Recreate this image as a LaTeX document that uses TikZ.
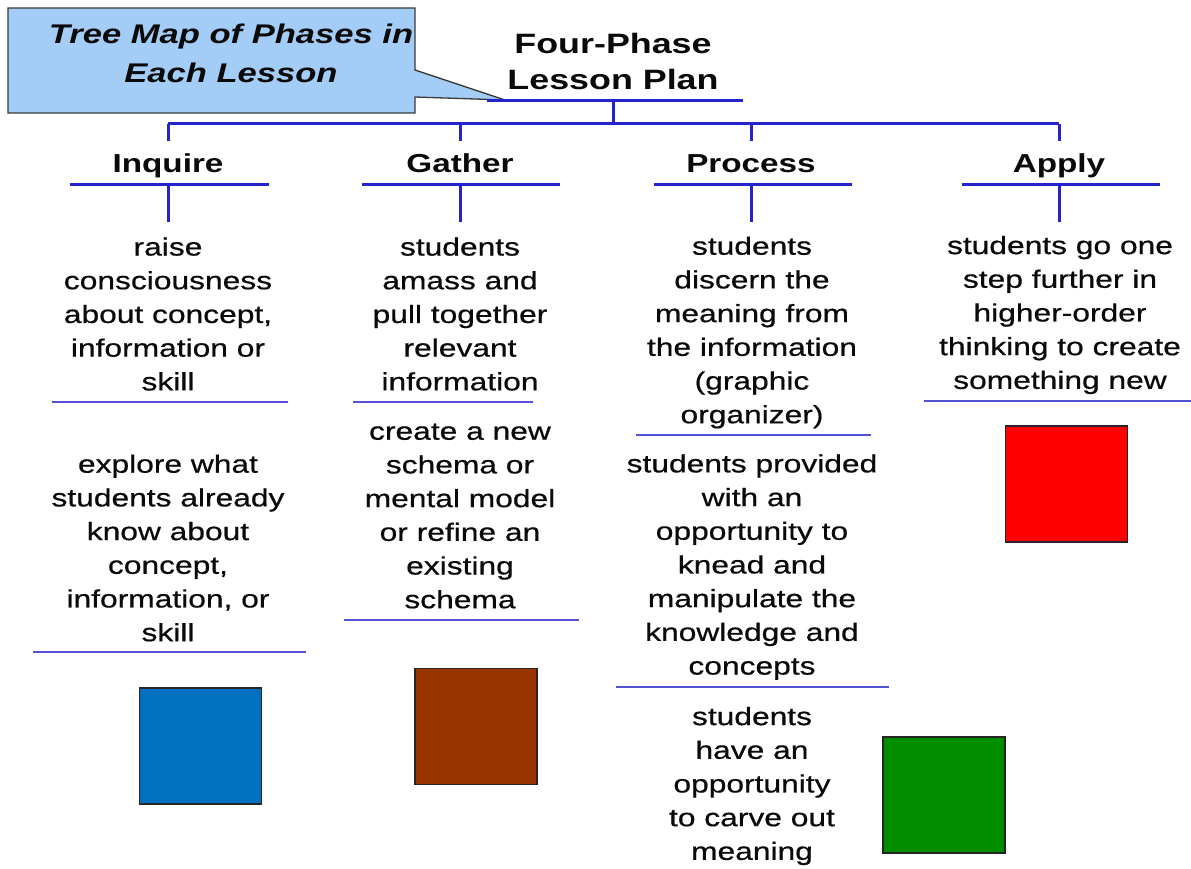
\documentclass[tikz,border=0pt]{standalone}
\usepackage{fontspec}
\newfontfamily\arialx{Liberation Sans}[FakeStretch=1.28]
\newfontfamily\arialbody{Liberation Sans}[FakeStretch=1.27,FakeBold=0.6]
\definecolor{treeblue}{HTML}{2424CC}
\definecolor{sepblue}{HTML}{5252D4}
\definecolor{callfill}{HTML}{A3CDF6}
\definecolor{callline}{HTML}{3A3A3A}
\definecolor{txt}{HTML}{0A0A0A}
\definecolor{sqblue}{HTML}{0070C0}
\definecolor{sqbrown}{HTML}{993300}
\definecolor{sqred}{HTML}{FF0000}
\definecolor{sqgreen}{HTML}{008E00}
\tikzset{
  tree/.style={treeblue, line width=3pt},
  sepline/.style={sepblue, line width=2.5pt},
  body/.style={align=center, inner sep=0pt, text=txt, font=\arialbody\fontsize{25}{33.7}\selectfont},
  title/.style={anchor=base, inner sep=0pt, text=txt, font=\arialx\bfseries\fontsize{26}{30}\selectfont},
  sq/.style={draw=black!85, line width=1.2pt, minimum width=122pt, minimum height=116pt, inner sep=0pt}
}
\begin{document}
\begin{tikzpicture}[x=1pt,y=-1pt]
\useasboundingbox (0,0) rectangle (1191,869);
\fill[white] (0,0) rectangle (1191,869);

% callout
\draw[callline, fill=callfill, line width=1.3pt] (8,8) -- (415,8) -- (415,70) -- (505,100) -- (415,97) -- (415,113) -- (8,113) -- cycle;
\node[align=center, inner sep=0pt, text=txt, font=\arialx\bfseries\itshape\fontsize{27}{39}\selectfont] (callout) at (231,53) {Tree Map of Phases in\\Each Lesson};

% root
\node[align=center, inner sep=0pt, text=txt, font=\arialx\bfseries\fontsize{28}{36}\selectfont] (root) at (613,61) {Four-Phase\\Lesson Plan};
\coordinate (rootUL) at (487,101);
\coordinate (rootUR) at (743,101);
\coordinate (rootJ) at (613,101);
\coordinate (busJ) at (613,124);
\coordinate (busL) at (168,124);
\coordinate (busR) at (1059,124);
\draw[tree] (rootUL) -- (rootUR);
\draw[tree] (rootJ) -- (busJ);
\draw[tree] (busL) -- (busR);

% columns
\foreach \n/\x/\t/\l/\r in {inq/168/Inquire/70/269, gat/460/Gather/362/560, pro/751/Process/654/852, app/1059/Apply/962/1160}{
  \coordinate (\n-top) at (\x,124);
  \coordinate (\n-stub) at (\x,141);
  \node[title] (\n) at (\x,173) {\t};
  \coordinate (\n-ul) at (\l,185);
  \coordinate (\n-ur) at (\r,185);
  \coordinate (\n-j) at (\x,185);
  \coordinate (\n-down) at (\x,222);
  \draw[tree] (\n-top) -- (\n-stub);
  \draw[tree] (\n-ul) -- (\n-ur);
  \draw[tree] (\n-j) -- (\n-down);
}

% Inquire
\node[body] (inq1) at (168,314) {raise\\consciousness\\about concept,\\information or\\skill};
\draw[sepline] (52,402) -- (288,402);
\node[body] (inq2) at (168,548) {explore what\\students already\\know about\\concept,\\information, or\\skill};
\draw[sepline] (33,652) -- (306,652);
\node[sq, fill=sqblue] (sqI) at (200.5,746) {};

% Gather
\node[body] (gat1) at (460,314) {students\\amass and\\pull together\\relevant\\information};
\draw[sepline] (353,402) -- (533,402);
\node[body] (gat2) at (460,516) {create a new\\schema or\\mental model\\or refine an\\existing\\schema};
\draw[sepline] (344,620) -- (579,620);
\node[sq, fill=sqbrown] (sqG) at (476,726.5) {};

% Process
\node[body] (pro1) at (752,332.5) {students\\discern the\\meaning from\\the information\\(graphic\\organizer)};
\draw[sepline] (636,435) -- (871,435);
\node[body] (pro2) at (752,567) {students provided\\with an\\opportunity to\\knead and\\manipulate the\\knowledge and\\concepts};
\draw[sepline] (616,687) -- (889,687);
\node[body] (pro3) at (752,786) {students\\have an\\opportunity\\to carve out\\meaning};
\node[sq, fill=sqgreen] (sqP) at (944,795) {};

% Apply
\node[body] (app1) at (1060,315) {students go one\\step further in\\higher-order\\thinking to create\\something new};
\draw[sepline] (924,401) -- (1191,401);
\node[sq, fill=sqred] (sqA) at (1066.5,484) {};
\end{tikzpicture}
\end{document}
